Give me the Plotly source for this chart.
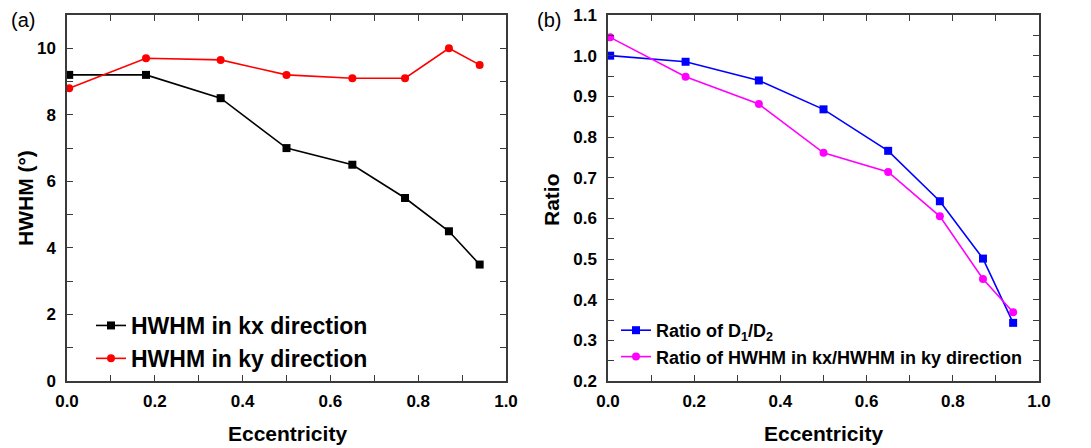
import plotly.graph_objects as go

# ---- data ----
ecc = [0.005, 0.18, 0.35, 0.50, 0.65, 0.77, 0.87, 0.94]
hwhm_kx = [9.2, 9.2, 8.5, 7.0, 6.5, 5.5, 4.5, 3.5]
hwhm_ky = [8.8, 9.7, 9.65, 9.2, 9.1, 9.1, 10.0, 9.5]
ratio_d = [1.0, 0.985, 0.939, 0.868, 0.766, 0.642, 0.501, 0.343]
ratio_hwhm = [1.045, 0.948, 0.881, 0.761, 0.714, 0.605, 0.451, 0.369]

W, H = 1091, 448
OFF = 8  # page body margin offset
FONT = "Liberation Sans"
FRAME = "#3a3a3a"

def px_x(p):
    return (p - OFF) / W

def px_y(p):
    return 1 - (p - OFF) / H

fig = go.Figure()

fig.add_trace(go.Scatter(x=ecc, y=hwhm_kx, mode="lines+markers", name="HWHM in kx direction",
                         line=dict(color="black", width=1.6),
                         marker=dict(symbol="square", size=8, color="black"),
                         xaxis="x", yaxis="y", legend="legend"))
fig.add_trace(go.Scatter(x=ecc, y=hwhm_ky, mode="lines+markers", name="HWHM in ky direction",
                         line=dict(color="#ff0000", width=1.6),
                         marker=dict(symbol="circle", size=8, color="#ff0000"),
                         xaxis="x", yaxis="y", legend="legend"))
fig.add_trace(go.Scatter(x=ecc, y=ratio_d, mode="lines+markers", name="Ratio of D<sub>1</sub>/D<sub>2</sub>",
                         line=dict(color="#0000ff", width=1.6),
                         marker=dict(symbol="square", size=8, color="#0000ff"),
                         xaxis="x2", yaxis="y2", legend="legend2"))
fig.add_trace(go.Scatter(x=ecc, y=ratio_hwhm, mode="lines+markers",
                         name="Ratio of HWHM in kx/HWHM in ky direction",
                         line=dict(color="#ff00ff", width=1.6),
                         marker=dict(symbol="circle", size=8, color="#ff00ff"),
                         xaxis="x2", yaxis="y2", legend="legend2"))

tickfont = dict(family=FONT, size=17, color="black", weight="bold")

def axis_common(**kw):
    d = dict(showline=True, linecolor=FRAME, linewidth=1.5, mirror="ticks",
             ticks="inside", ticklen=6, tickwidth=1.3, tickcolor=FRAME,
             showgrid=False, zeroline=False, tickfont=tickfont, automargin=False,
             ticklabeloverflow="allow",
             minor=dict(ticks="inside", ticklen=6, tickwidth=1.3, tickcolor=FRAME))
    d.update(kw)
    return d

ydom = [px_y(381), px_y(15)]

fig.update_layout(
    width=W, height=H,
    margin=dict(l=0, r=0, t=0, b=0),
    paper_bgcolor="white", plot_bgcolor="white",
    font=dict(family=FONT, color="black"),
    xaxis=axis_common(domain=[px_x(67), px_x(506)], range=[0, 1], dtick=0.2, tick0=0,
                      tickformat=".1f", anchor="y", minor_dtick=0.1, ticklabelstandoff=4),
    yaxis=axis_common(domain=ydom, range=[0, 11], dtick=2, tick0=0, anchor="x",
                      minor_dtick=1, ticklabelstandoff=6),
    xaxis2=axis_common(domain=[px_x(608), px_x(1039)], range=[0, 1], dtick=0.2, tick0=0,
                       tickformat=".1f", anchor="y2", minor_dtick=0.1, ticklabelstandoff=4),
    yaxis2=axis_common(domain=ydom, range=[0.2, 1.1], dtick=0.1, tick0=0.2, anchor="x2",
                       tickformat=".1f", minor_dtick=0.05, ticklabelstandoff=6),
    legend=dict(x=px_x(91), y=px_y(304), xanchor="left", yanchor="top",
                bgcolor="rgba(0,0,0,0)", borderwidth=0,
                font=dict(family=FONT, size=23, color="black", weight="bold"),
                tracegroupgap=0),
    legend2=dict(x=px_x(616), y=px_y(312), xanchor="left", yanchor="top",
                 bgcolor="rgba(0,0,0,0)", borderwidth=0,
                 font=dict(family=FONT, size=18, color="black", weight="bold"),
                 tracegroupgap=0),
    showlegend=True,
)

ann_font = dict(family=FONT, size=21, color="black", weight="bold")
fig.add_annotation(text="Eccentricity", x=px_x(287), y=px_y(433), xref="paper", yref="paper",
                   showarrow=False, font=ann_font, xanchor="center", yanchor="middle")
fig.add_annotation(text="Eccentricity", x=px_x(823), y=px_y(433), xref="paper", yref="paper",
                   showarrow=False, font=ann_font, xanchor="center", yanchor="middle")
fig.add_annotation(text="HWHM (°)", x=px_x(26), y=px_y(198), xref="paper", yref="paper",
                   showarrow=False, font=ann_font, textangle=-90, xanchor="center", yanchor="middle")
fig.add_annotation(text="Ratio", x=px_x(551), y=px_y(200), xref="paper", yref="paper",
                   showarrow=False, font=ann_font, textangle=-90, xanchor="center", yanchor="middle")
fig.add_annotation(text="(a)", x=px_x(23), y=px_y(20), xref="paper", yref="paper",
                   showarrow=False, font=dict(family=FONT, size=20, color="black"),
                   xanchor="center", yanchor="middle")
fig.add_annotation(text="(b)", x=px_x(549), y=px_y(20), xref="paper", yref="paper",
                   showarrow=False, font=dict(family=FONT, size=20, color="black"),
                   xanchor="center", yanchor="middle")

fig.write_html("out.html")
